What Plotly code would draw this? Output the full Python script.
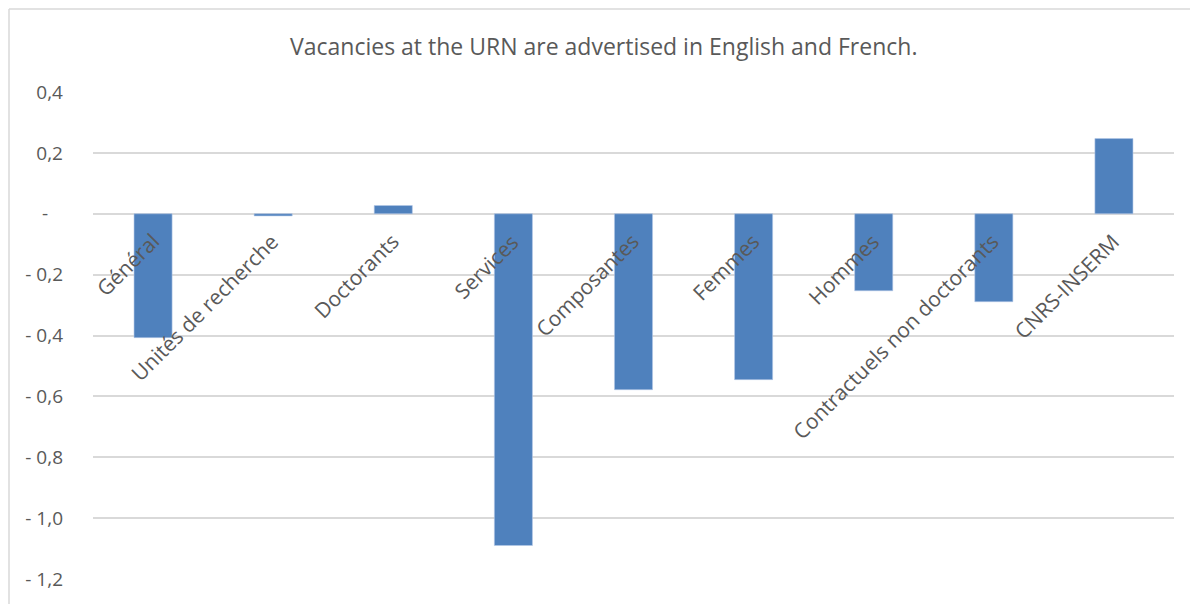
import plotly.graph_objects as go

categories = ["Général", "Unités de recherche", "Doctorants", "Services", "Composantes",
              "Femmes", "Hommes", "Contractuels non doctorants", "CNRS-INSERM"]
values = [-0.407, -0.007, 0.027, -1.09, -0.578, -0.545, -0.253, -0.289, 0.247]
tick_vals = [0.4, 0.2, 0.0, -0.2, -0.4, -0.6, -0.8, -1.0, -1.2]
tick_text = ["0,4", "0,2", "-\u00a0\u00a0\u00a0", "- 0,2", "- 0,4", "- 0,6", "- 0,8", "- 1,0", "- 1,2"]
title_text = "Vacancies at the URN are advertised in English and French."

# page body has an 8px margin; compensate so the figure fills the 1198x604 window
OFF = 8
W, H = 1198 - OFF, 604 - OFF
L, R, T, B = 93 - OFF, 24, 92 - OFF, 25
pw, ph = W - L - R, H - T - B

def px_x(x):  # window pixel -> paper x
    return (x - OFF - L) / pw

def px_y(y):  # window pixel -> paper y
    return (H - B - (y - OFF)) / ph

fig = go.Figure()
fig.add_trace(go.Bar(
    x=categories, y=values, width=0.317,
    marker=dict(color="#4f81bd", line=dict(color="#b4c7e7", width=0.6)),
    hoverinfo="x+y",
))

annotations = []
for c in categories:
    annotations.append(dict(
        x=c, y=0, xref="x", yref="y", text=c, showarrow=False,
        textangle=-45, xanchor="right", yanchor="top",
        xshift=14, yshift=-11,
        font=dict(family="Open Sans", size=21, color="#595959"),
    ))

annotations.append(dict(
    x=px_x(603), y=px_y(46), xref="paper", yref="paper",
    text=title_text, showarrow=False, xanchor="center", yanchor="middle",
    font=dict(family="Open Sans", size=23, color="#595959"),
))

border = dict(color="#d9d9d9", width=1.5)
fig.update_layout(
    width=W, height=H,
    margin=dict(l=L, r=R, t=T, b=B, pad=0),
    paper_bgcolor="white", plot_bgcolor="white",
    showlegend=False,
    annotations=annotations,
    shapes=[
        dict(type="line", xref="paper", yref="paper",
             x0=px_x(9), x1=px_x(9), y0=px_y(604), y1=px_y(9), line=border, layer="below"),
        dict(type="line", xref="paper", yref="paper",
             x0=px_x(9), x1=px_x(1198), y0=px_y(9), y1=px_y(9), line=border, layer="below"),
    ],
    xaxis=dict(showticklabels=False, showgrid=False, zeroline=False, showline=False,
               ticks="", range=[-0.5, 8.5]),
    yaxis=dict(range=[-1.2, 0.4], tickvals=tick_vals, ticktext=tick_text,
               showgrid=True, gridcolor="#d9d9d9", gridwidth=1.5,
               zeroline=False, showline=False, ticks="",
               ticklabelstandoff=29,
               tickfont=dict(family="Open Sans", size=19, color="#595959")),
    bargap=0.6,
)

fig.write_html("out.html")
